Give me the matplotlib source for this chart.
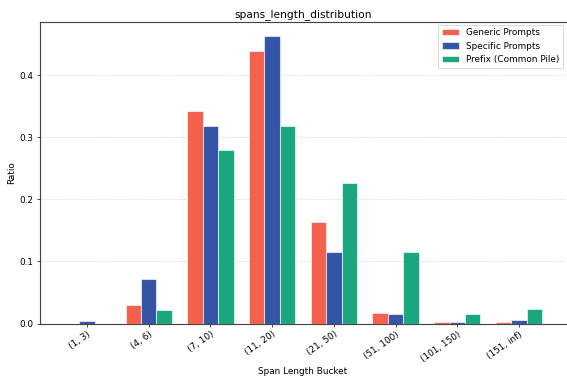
import matplotlib
matplotlib.use("Agg")
import matplotlib.pyplot as plt
import numpy as np

categories = ["(1, 3)", "(4, 6)", "(7, 10)", "(11, 20)", "(21, 50)", "(51, 100)", "(101, 150)", "(151, inf)"]
generic = [0.0, 0.030, 0.343, 0.439, 0.164, 0.017, 0.003, 0.002]
specific = [0.004, 0.072, 0.318, 0.463, 0.116, 0.015, 0.003, 0.005]
prefix = [0.0, 0.022, 0.279, 0.318, 0.226, 0.115, 0.015, 0.023]
series_names = ["Generic Prompts", "Specific Prompts", "Prefix (Common Pile)"]
colors = ["#F3614C", "#3554A5", "#1AA77F"]

DPI = 64.0
fig = plt.figure(figsize=(567/DPI, 378/DPI), dpi=DPI)
ax = fig.add_axes([40/567, 1 - 323.5/378, 526/567, (323.5-22)/378])

x = np.arange(len(categories))
w = 0.25
for i, (vals, name, c) in enumerate(zip([generic, specific, prefix], series_names, colors)):
    ax.bar(x + (i - 1) * w, vals, w, label=name, color=c,
           edgecolor=(1, 1, 1, 0.6), linewidth=1.2, zorder=3)

ax.set_xticks(x)
ax.set_xticklabels(categories, rotation=35, ha="right", rotation_mode="anchor")
ax.set_xlabel("Span Length Bucket")
ax.set_ylabel("Ratio")
ax.set_title("spans_length_distribution")
ax.set_yticks([0.0, 0.1, 0.2, 0.3, 0.4])
ax.yaxis.grid(True, linestyle="--", color="#cccccc", alpha=0.7, zorder=0)
ax.set_axisbelow(True)
ax.spines["right"].set_visible(False)
for s in ["left", "top", "bottom"]:
    ax.spines[s].set_color("#444444")
    ax.spines[s].set_linewidth(1.3)
ax.legend(loc="upper right", fontsize=10, borderaxespad=0.3)
fig.savefig("out.png", dpi=DPI)
